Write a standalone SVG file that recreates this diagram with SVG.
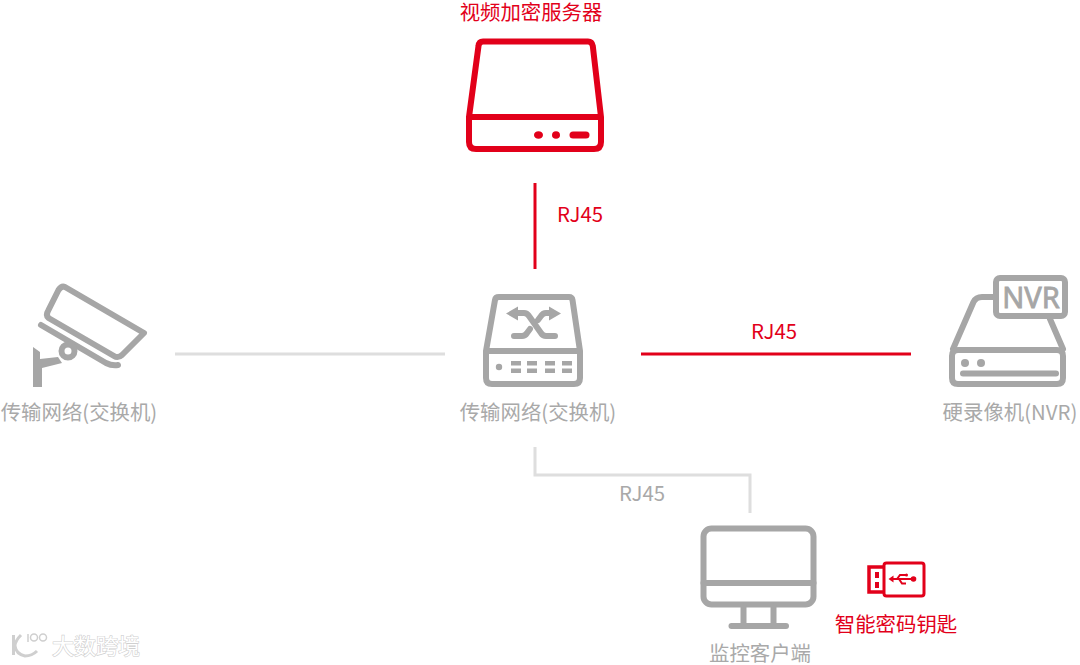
<svg xmlns="http://www.w3.org/2000/svg" width="1080" height="665" viewBox="0 0 1080 665">
<style>
text{font-family:"Noto Sans CJK SC","Noto Sans",sans-serif;font-size:20.400px}
.g{fill:#a6a6a6}.r{fill:#e2001a}
.tg{fill:#a9a9a9}
.sg,.sr,.lg,.lr{fill:none;stroke-linecap:round;stroke-linejoin:round}
.sg{stroke:#a6a6a6;stroke-width:6}.sr{stroke:#e2001a;stroke-width:6}
.lg{stroke:#dedede;stroke-width:3;stroke-linecap:butt;stroke-linejoin:miter}.lr{stroke:#e2001a;stroke-width:3;stroke-linecap:butt}
.m{text-anchor:middle}
</style>
<rect width="1080" height="665" fill="#fff"/>
<g id="connectors">
<path class="lr" d="M535 183V269"/>
<path class="lr" d="M641 354H911"/>
<path class="lg" d="M175 354H445"/>
<path class="lg" d="M535 447V475H750V513"/>
<text class="r" x="557" y="221.500">RJ45</text>
<text class="r" x="751" y="339">RJ45</text>
<text class="tg" x="619" y="500.500">RJ45</text>
</g>
<g id="server">
<path class="sr" d="M483 41.500H588Q592 41.500 592.800 46L601 117V142Q601 149 594 149H476Q469 149 469 142V117L478.500 46Q479 41.500 483 41.500ZM469 117H601"/>
<ellipse class="r" cx="538.500" cy="135" rx="4.500" ry="3.800"/>
<ellipse class="r" cx="556" cy="135" rx="4" ry="3.800"/>
<rect class="r" x="569.500" y="131.500" width="20" height="7" rx="3.500"/>
<text class="r m" x="531" y="20">视频加密服务器</text>
</g>
<g id="camera">
<path class="sg" d="M65 287L144 333L122 355Q118 358.500 114 356L48.500 318Q45.500 315 48 311L58.500 290Q61.500 285.500 65 287Z"/>
<path class="sg" d="M41 325L106 363Q112 366 118 365" stroke-linecap="butt"/>
<circle class="sg" cx="68" cy="351" r="6.500"/>
<path class="g" d="M33 347L40 352V359L58 357L62 363L42 368V387L33 387Z"/>
<text class="tg m" x="79" y="420">传输网络(交换机)</text>
</g>
<g id="switch">
<path class="sg" d="M499 297H569Q572 297 572.500 300L580 351V378Q580 384 574 384H492Q486 384 486 378V351L495 300Q495.500 297 499 297ZM486 351H580" stroke-width="5.500"/>
<circle class="g" cx="499" cy="367" r="3.200"/>
<path class="g" d="M511 361h10v4.500h-10zM527 361h10v4.500h-10zM545 361h10v4.500h-10zM562 361h10v4.500h-10zM511 368.500h10v4.500h-10zM527 368.500h10v4.500h-10zM545 368.500h10v4.500h-10zM562 368.500h10v4.500h-10z"/>
<path class="sg" d="M516 313H524Q527 313 529 316L541 333Q543 336 546 336H555" stroke-width="6.500"/>
<path class="sg" d="M514 336H522Q525 336 527 333L530 329M538 320L541 316Q543 313 546 313H552" stroke-width="6.500"/>
<path class="g" d="M506 313.500L518 306.500V320.500ZM561 313.500L549 306.500V320.500Z"/>
<text class="tg m" x="538" y="420">传输网络(交换机)</text>
</g>
<g id="nvr">
<path class="sg" d="M993 297H982Q976 297 973.500 302L953 349M1050 319L1063 349" stroke-linecap="butt"/>
<path class="sg" d="M958 350H1057Q1063 350 1063 356V378Q1063 384 1057 384H958Q952 384 952 378V356Q952 350 958 350Z"/>
<rect class="sg" x="996" y="278" width="69" height="38" rx="4"/>
<text class="g m" x="1031" y="308" style="font-size:29px;font-family:'Noto Sans',sans-serif;stroke:#a6a6a6;stroke-width:.8px">NVR</text>
<circle class="g" cx="965" cy="363" r="4"/>
<circle class="g" cx="981" cy="363" r="4"/>
<path class="sg" d="M963 373.500H1056" stroke-width="5"/>
<text class="tg m" x="1010" y="420">硬录像机(NVR)</text>
</g>
<g id="client">
<rect class="sg" x="703.500" y="528.500" width="110" height="76" rx="8" stroke-width="6.500"/>
<path class="sg" d="M703.500 583H813.500M743.500 606V626M773.500 606V626" stroke-width="6.500" stroke-linecap="butt"/>
<path class="sg" d="M731.500 626H786" stroke-width="7"/>
<text class="tg m" x="760" y="661">监控客户端</text>
</g>
<g id="usbkey">
<rect x="884" y="563" width="40" height="33" rx="2.500" fill="none" stroke="#e2001a" stroke-width="3"/>
<path d="M884 567H869V592H884" fill="none" stroke="#e2001a" stroke-width="3.500"/>
<path class="r" d="M875 572h4v6h-4zM875 582h4v6h-4z"/>
<path d="M891 579H913M897 579L900 575H906M899 579L902 583.500H906" fill="none" stroke="#e2001a" stroke-width="2"/>
<circle class="r" cx="913.500" cy="579" r="2.800"/>
<circle class="r" cx="906.500" cy="575" r="1.500"/>
<path class="r" d="M888.500 579l5 -3.500v7z"/>
<text class="r m" x="896" y="632">智能密码钥匙</text>
</g>
<g id="watermark" fill="none">
<path d="M13.500 635V655M21 635Q15 641 15 646Q16 654 25 656Q32 656 37 651" stroke="#cfcfcf" stroke-width="3"/>
<path d="M28 634V642" stroke="#cfcfcf" stroke-width="1.500"/>
<circle cx="34" cy="637.500" r="3.500" stroke="#cfcfcf" stroke-width="1.500"/>
<circle cx="43" cy="637.500" r="3.500" stroke="#cfcfcf" stroke-width="1.500"/>
<text x="52" y="654" style="font-size:22px;fill:#fff;stroke:#d0d0d0;stroke-width:1.200px;paint-order:stroke">大数跨境</text>
</g>
</svg>
